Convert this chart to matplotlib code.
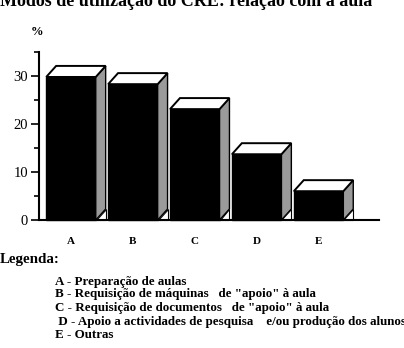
import matplotlib.pyplot as plt
from matplotlib.patches import Polygon
from matplotlib.ticker import MultipleLocator

categories = ["A", "B", "C", "D", "E"]
values = [29.8, 28.3, 23.1, 13.7, 6.0]
legend_lines = [
    "A - Preparação de aulas",
    "B - Requisição de máquinas   de \"apoio\" à aula",
    "C - Requisição de documentos   de \"apoio\" à aula",
    " D - Apoio a actividades de pesquisa    e/ou produção dos alunos",
    "E - Outras",
]
title = "Modos de utilização do CRE: relação com a aula"

SERIF = "Liberation Serif"
BAR_W = 0.8
DX = 0.16   # depth offset along x (data units)
DY = 2.3    # depth offset along y (data units)

fig = plt.figure(figsize=(4.04, 3.48), dpi=100)
ax = fig.add_axes([39 / 404, 128 / 348, 340 / 404, 168 / 348])

for i, v in enumerate(values):
    xl, xr = i - BAR_W / 2, i + BAR_W / 2
    ax.add_patch(plt.Rectangle((xl, 0), BAR_W, v, facecolor="black",
                               edgecolor="black", lw=1, clip_on=False))
    side = [(xr, 0), (xr, v), (xr + DX, v + DY), (xr + DX, DY)]
    ax.add_patch(Polygon(side, closed=True, facecolor="#9a9a9a",
                         edgecolor="black", lw=1, clip_on=False))
    notch = [(xr, 0), (xr + DX, 0), (xr + DX, DY)]
    ax.add_patch(Polygon(notch, closed=True, facecolor="white",
                         edgecolor="black", lw=0.8, clip_on=False))
    top = [(xl, v), (xl + DX, v + DY), (xr + DX, v + DY), (xr, v)]
    ax.add_patch(Polygon(top, closed=True, facecolor="white",
                         edgecolor="black", lw=1.4, clip_on=False))

ax.set_xlim(-0.517, 4.976)
ax.set_ylim(0, 35)
for side_name in ["top", "right"]:
    ax.spines[side_name].set_visible(False)
ax.spines["left"].set_linewidth(1.5)
ax.spines["bottom"].set_linewidth(1.5)

ax.set_yticks([0, 10, 20, 30])
ax.yaxis.set_minor_locator(MultipleLocator(5))
ax.tick_params(axis="y", which="major", length=6, width=1.2, pad=2,
               labelsize=10.5)
ax.tick_params(axis="y", which="minor", length=3.5, width=1.2)
for lab in ax.get_yticklabels():
    lab.set_fontfamily(SERIF)

ax.set_xticks(range(len(categories)))
ax.set_xticklabels(categories, fontfamily=SERIF, fontweight="bold",
                   fontsize=8)
ax.tick_params(axis="x", length=0, pad=12)

# title is cut by the top edge, as in the scanned page
fig.text(0.0, 1 - 6 / 348, title, fontfamily=SERIF, fontweight="bold",
         fontsize=13, va="baseline", ha="left")
fig.text(37 / 404, 1 - 32 / 348, "%", fontfamily=SERIF, fontweight="bold",
         fontsize=9, va="center", ha="center")
fig.text(0.0, 1 - 260 / 348, "Legenda:", fontfamily=SERIF,
         fontweight="bold", fontsize=10.8, va="center", ha="left")

ys = [282, 294.5, 307.5, 321.5, 335]
for line, y in zip(legend_lines, ys):
    fig.text(55 / 404, 1 - y / 348, line, fontfamily=SERIF, fontsize=9.4,
             fontweight="bold", va="center", ha="left")

fig.savefig("out.png", dpi=100)
